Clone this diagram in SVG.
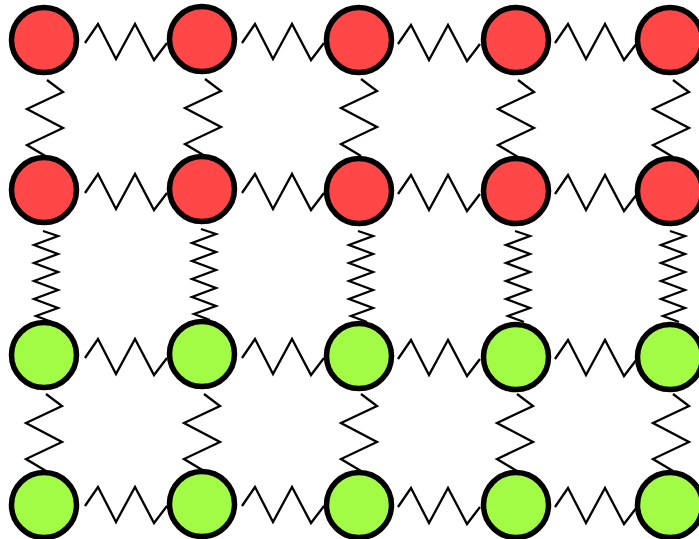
<svg xmlns="http://www.w3.org/2000/svg" xmlns:xlink="http://www.w3.org/1999/xlink" width="699" height="539" viewBox="0 0 699 539">
<style>
.spring{fill:none;stroke:#000;stroke-width:2.3;stroke-linejoin:miter}
.node circle{stroke:#000;stroke-width:5.5}
.red circle{fill:#ff4747}
.green circle{fill:#a2fc46}
</style>
<defs>
<path id="hs" class="spring" d="M0,3 L13,-16 L31,19 L50,-16 L69,20 L82,3"/>
<path id="vs" class="spring" d="M3,0 L19,12 L-17,29 L19,48 L-17,65 L3,77"/>
<path id="cs" class="spring" d="M-1,0 L14,5 L-10,14 L14,23 L-10,32 L14,41 L-10,50 L14,59 L-10,68 L14,77 L-8,85 L8,91"/>
</defs>
<rect width="699" height="539" fill="#fff"/>
<g id="connectors">
<use xlink:href="#hs" href="#hs" x="85" y="40"/>
<use xlink:href="#hs" href="#hs" x="242" y="40"/>
<use xlink:href="#hs" href="#hs" x="398" y="41"/>
<use xlink:href="#hs" href="#hs" x="555" y="40"/>
<use xlink:href="#hs" href="#hs" x="85" y="190"/>
<use xlink:href="#hs" href="#hs" x="242" y="190"/>
<use xlink:href="#hs" href="#hs" x="398" y="191"/>
<use xlink:href="#hs" href="#hs" x="555" y="191"/>
<use xlink:href="#hs" href="#hs" x="85" y="355"/>
<use xlink:href="#hs" href="#hs" x="242" y="355"/>
<use xlink:href="#hs" href="#hs" x="398" y="356"/>
<use xlink:href="#hs" href="#hs" x="555" y="356"/>
<use xlink:href="#hs" href="#hs" x="85" y="503"/>
<use xlink:href="#hs" href="#hs" x="242" y="503"/>
<use xlink:href="#hs" href="#hs" x="398" y="504"/>
<use xlink:href="#hs" href="#hs" x="555" y="504"/>
<use xlink:href="#vs" href="#vs" x="44" y="80"/>
<use xlink:href="#vs" href="#vs" x="202" y="79"/>
<use xlink:href="#vs" href="#vs" x="358" y="79"/>
<use xlink:href="#vs" href="#vs" x="515" y="80"/>
<use xlink:href="#vs" href="#vs" x="670" y="80"/>
<use xlink:href="#cs" href="#cs" x="44" y="231"/>
<use xlink:href="#cs" href="#cs" x="202" y="229"/>
<use xlink:href="#cs" href="#cs" x="359" y="231"/>
<use xlink:href="#cs" href="#cs" x="516" y="231"/>
<use xlink:href="#cs" href="#cs" x="671" y="231"/>
<use xlink:href="#vs" href="#vs" x="43" y="394"/>
<use xlink:href="#vs" href="#vs" x="201" y="394"/>
<use xlink:href="#vs" href="#vs" x="358" y="394"/>
<use xlink:href="#vs" href="#vs" x="514" y="394"/>
<use xlink:href="#vs" href="#vs" x="670" y="394"/>
</g>
<g id="n11" class="node red"><circle cx="44" cy="40" r="32.5"/></g>
<g id="n12" class="node red"><circle cx="202" cy="39" r="32.5"/></g>
<g id="n13" class="node red"><circle cx="359" cy="40" r="32.5"/></g>
<g id="n14" class="node red"><circle cx="516" cy="40" r="32.5"/></g>
<g id="n15" class="node red"><circle cx="670" cy="40" r="32.5"/></g>
<g id="n21" class="node red"><circle cx="44" cy="190" r="32.5"/></g>
<g id="n22" class="node red"><circle cx="202" cy="189" r="32.5"/></g>
<g id="n23" class="node red"><circle cx="359" cy="191" r="32.5"/></g>
<g id="n24" class="node red"><circle cx="516" cy="191" r="32.5"/></g>
<g id="n25" class="node red"><circle cx="670" cy="191" r="32.5"/></g>
<g id="n31" class="node green"><circle cx="44" cy="355" r="32.5"/></g>
<g id="n32" class="node green"><circle cx="202" cy="354" r="32.5"/></g>
<g id="n33" class="node green"><circle cx="359" cy="356" r="32.5"/></g>
<g id="n34" class="node green"><circle cx="516" cy="357" r="32.5"/></g>
<g id="n35" class="node green"><circle cx="670" cy="357" r="32.5"/></g>
<g id="n41" class="node green"><circle cx="44" cy="505" r="32.5"/></g>
<g id="n42" class="node green"><circle cx="202" cy="504" r="32.5"/></g>
<g id="n43" class="node green"><circle cx="359" cy="505" r="32.5"/></g>
<g id="n44" class="node green"><circle cx="516" cy="505" r="32.5"/></g>
<g id="n45" class="node green"><circle cx="670" cy="505" r="32.5"/></g>
</svg>
